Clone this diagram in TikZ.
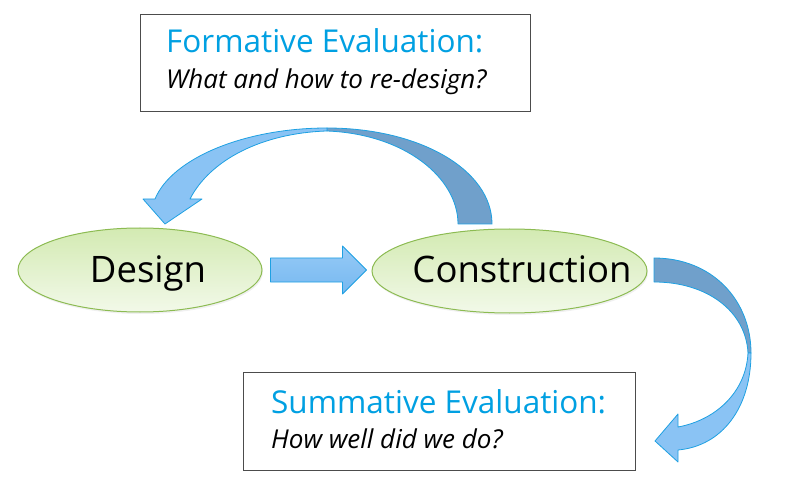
\documentclass[tikz,border=0pt]{standalone}
\usepackage{fontspec}
\setmainfont{Open Sans}
\usetikzlibrary{shapes.geometric,shadows}
\definecolor{cStageTop}{RGB}{211,234,178}
\definecolor{cStageBot}{RGB}{242,249,233}
\definecolor{cStageLine}{RGB}{140,187,82}
\definecolor{cArrTop}{RGB}{150,202,246}
\definecolor{cArrBot}{RGB}{118,184,240}
\definecolor{cArrFront}{RGB}{138,195,244}
\definecolor{cArrBack}{RGB}{112,160,203}
\definecolor{cArrLine}{RGB}{30,160,226}
\definecolor{cTitle}{RGB}{0,160,226}
\tikzset{
  stage/.style={ellipse, draw=cStageLine, line width=1pt, top color=cStageTop,
                bottom color=cStageBot, inner sep=0pt,
                drop shadow={opacity=0.12, shadow xshift=1pt, shadow yshift=-2pt}},
  stagetext/.style={font=\fontsize{36.5}{40}\selectfont, inner sep=0pt},
  evalbox/.style={draw=black!70, line width=1pt, fill=white, inner sep=0pt},
  evaltitle/.style={font=\fontsize{31.5}{36}\selectfont, text=cTitle, inner sep=0pt},
  evalq/.style={font=\fontsize{26}{30}\selectfont\itshape, inner sep=0pt},
  arrfront/.style={fill=cArrFront, draw=cArrLine, line width=0.8pt, line join=round},
  arrback/.style={fill=cArrBack, draw=cArrLine, line width=0.8pt, line join=round},
  fwdarr/.style={top color=cArrTop, bottom color=cArrBot, draw=cArrLine,
                 line width=0.8pt, line join=round},
}

\begin{document}
\begin{tikzpicture}[x=1pt, y=-1pt]
  \useasboundingbox (0,0) rectangle (800,478);
  % stages
  \node[stage, minimum width=244pt, minimum height=84pt] (design) at (140,270) {};
  \node[stage, minimum width=275pt, minimum height=84pt] (constr) at (509.5,271) {};
  \node[stagetext, anchor=base] (designtxt) at (148,283) {Design};
  \node[stagetext, anchor=base] (constrtxt) at (522,283) {Construction};
  \begin{scope}[shift={(design.east)}]
    \draw[fwdarr] (8,-12) -- (80,-12) -- (80,-24) -- (104,0) -- (80,24)
      -- (80,12) -- (8,12) -- cycle;
  \end{scope}
  % formative loop back to design
  \filldraw[arrback] (327,128) .. controls (420,128) and (492,170) .. (492,224)
    -- (458,224) .. controls (458,178) and (405,134) .. (327,131) -- cycle;
  \filldraw[arrfront] (327,128) .. controls (245,128) and (172,158) .. (155,199)
    -- (143,199) -- (165,224) -- (202,199) -- (190,199)
    .. controls (210,160) and (262,133) .. (327,131) -- cycle;
  % summative
  \filldraw[arrback] (654,258) .. controls (712,258) and (751,300) .. (751,353)
    -- (748,353) .. controls (746,312) and (708,282) .. (654,282) -- cycle;
  \filldraw[arrfront] (751,353) .. controls (751,408) and (722,446) .. (678,450)
    -- (678,462) -- (655,441) -- (678,414) -- (678,427)
    .. controls (716,420) and (746,392) .. (748,353) -- cycle;
  % evaluation boxes
  \node[evalbox, minimum width=390pt, minimum height=97pt] (formbox) at (335,63.5) {};
  \node[evaltitle, anchor=base west] (formtitle) at (166,53) {Formative Evaluation:};
  \node[evalq, anchor=base west] (formq) at (166,89) {What and how to re-design?};
  \node[evalbox, minimum width=392pt, minimum height=98pt] (sumbox) at (439,421) {};
  \node[evaltitle, anchor=base west] (sumtitle) at (271,413) {Summative Evaluation:};
  \node[evalq, anchor=base west] (sumq) at (271,448) {How well did we do?};
\end{tikzpicture}
\end{document}
